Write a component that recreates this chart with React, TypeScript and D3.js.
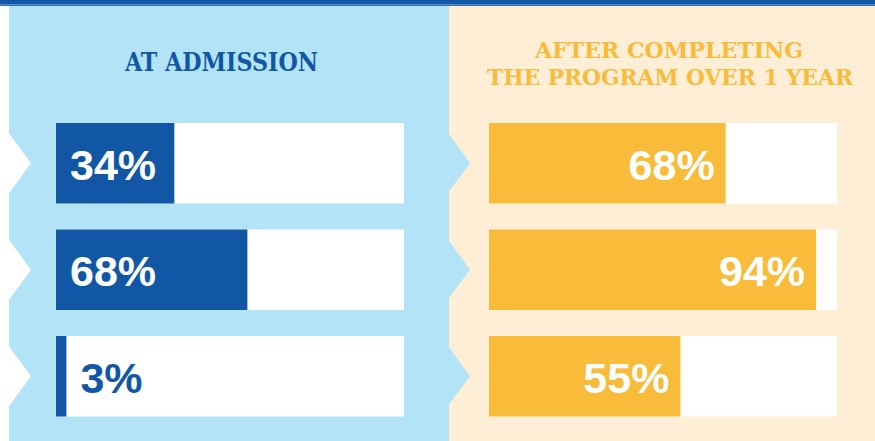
import React from "react";
import * as d3 from "d3";

const rows = ["r1", "r2", "r3"];
// bar lengths as drawn in the picture (percent of track)
const admissionBars = [34, 55, 3];
const admissionLabels = ["34%", "68%", "3%"];
const afterBars = [68, 94, 55];
const afterLabels = ["68%", "94%", "55%"];
const leftTitle = ["AT ADMISSION"];
const rightTitle = ["AFTER COMPLETING", "THE PROGRAM OVER 1 YEAR"];

const W = 875;
const H = 441;
const DARK = "#1157a5";
const LIGHT_BLUE = "#b3e3f7";
const CREAM = "#fdeed5";
const YELLOW = "#f8bb3a";

export default function App() {
  const y = d3.scaleBand<string>().domain(rows).range([123, 416.5]).paddingInner(0.244).paddingOuter(0);
  const xL = d3.scaleLinear().domain([0, 100]).range([56, 404]);
  const xR = d3.scaleLinear().domain([0, 100]).range([489, 837]);
  const bh = y.bandwidth();
  const labelFont = "'Liberation Sans', Arial, sans-serif";
  const titleFont = "'DejaVu Serif Condensed', 'DejaVu Serif', serif";
  const labelSize = 43;
  const labelW = (s: string) => s.length * 0.556 * labelSize + 0.33 * labelSize;

  return (
    <svg width={W} height={H} style={{ position: "absolute", left: 0, top: 0, display: "block" }}>
      <rect x={0} y={0} width={W} height={H} fill="#ffffff" />
      <rect x={9} y={6} width={440} height={H - 6} fill={LIGHT_BLUE} />
      <rect x={449} y={6} width={W - 449} height={H - 6} fill={CREAM} />
      <rect x={0} y={0} width={W} height={4.5} fill={DARK} />
      <rect x={0} y={4.5} width={W} height={1.5} fill="#2f72ba" />

      {rows.map((r) => {
        const cy = (y(r) as number) + bh / 2;
        return (
          <g key={r}>
            <path d={`M0,${cy - 30} L9,${cy - 30} L31,${cy} L9,${cy + 30} L0,${cy + 30} Z`} fill="#ffffff" />
            <path d={`M449,${cy - 29} L470,${cy} L449,${cy + 28} Z`} fill={LIGHT_BLUE} />
          </g>
        );
      })}

      <text x={221.5} y={71} textAnchor="middle" fill={DARK} fontFamily={titleFont} fontWeight="bold" fontSize={26.5} textLength={193} lengthAdjust="spacingAndGlyphs">
        {leftTitle[0]}
      </text>
      <text x={669} y={58} textAnchor="middle" fill={YELLOW} fontFamily={titleFont} fontWeight="bold" fontSize={23} textLength={268} lengthAdjust="spacingAndGlyphs">
        {rightTitle[0]}
      </text>
      <text x={670} y={85} textAnchor="middle" fill={YELLOW} fontFamily={titleFont} fontWeight="bold" fontSize={23} textLength={366} lengthAdjust="spacingAndGlyphs">
        {rightTitle[1]}
      </text>

      {rows.map((r, i) => {
        const top = y(r) as number;
        const end = xL(admissionBars[i]);
        const inside = end - xL(0) > labelW(admissionLabels[i]) + 20;
        return (
          <g key={"L" + r}>
            <rect x={xL(0)} y={top} width={xL(100) - xL(0)} height={bh} fill="#ffffff" />
            <rect x={xL(0)} y={top} width={end - xL(0)} height={bh} fill={DARK} />
            <text
              x={inside ? xL(0) + 14 : end + 14}
              y={top + 57}
              fill={inside ? "#ffffff" : DARK}
              fontFamily={labelFont}
              fontWeight="bold"
              fontSize={labelSize}
            >
              {admissionLabels[i]}
            </text>
          </g>
        );
      })}

      {rows.map((r, i) => {
        const top = y(r) as number;
        const end = xR(afterBars[i]);
        return (
          <g key={"R" + r}>
            <rect x={xR(0)} y={top} width={xR(100) - xR(0)} height={bh} fill="#ffffff" />
            <rect x={xR(0)} y={top} width={end - xR(0)} height={bh} fill={YELLOW} />
            <text x={end - 11} y={top + 57} textAnchor="end" fill="#ffffff" fontFamily={labelFont} fontWeight="bold" fontSize={labelSize}>
              {afterLabels[i]}
            </text>
          </g>
        );
      })}
    </svg>
  );
}
